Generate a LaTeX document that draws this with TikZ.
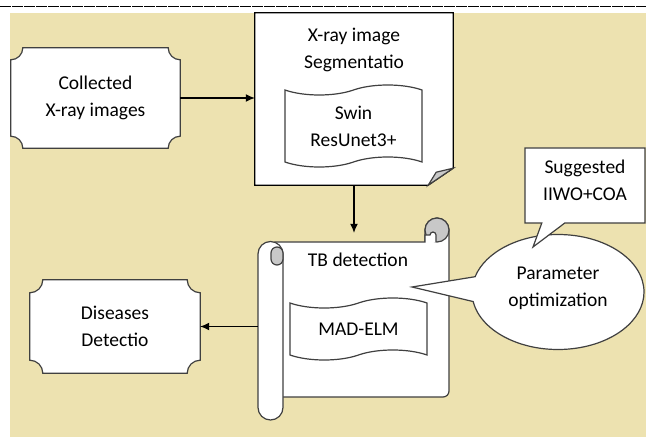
\documentclass[tikz,border=0pt]{standalone}
\usepackage{fontspec}
\setmainfont{Carlito}
\usetikzlibrary{shapes.symbols,shapes.callouts,backgrounds,arrows.meta}
\definecolor{bgbeige}{RGB}{237,226,176}
\definecolor{linegray}{RGB}{64,64,64}
\definecolor{curlgray}{RGB}{200,200,200}
% plaque outline round a named node: #1 node, #2 corner radius
\newcommand\plaquepath[2]{%
  \draw[outline] ([yshift=-#2]#1.north west) arc[start angle=-90,end angle=0,radius=#2]
    -- ([xshift=-#2]#1.north east) arc[start angle=180,end angle=270,radius=#2]
    -- ([yshift=#2]#1.south east) arc[start angle=90,end angle=180,radius=#2]
    -- ([xshift=#2]#1.south west) arc[start angle=0,end angle=90,radius=#2] -- cycle;}

\begin{document}
\begin{tikzpicture}[x=1pt, y=1pt, font=\fontsize{19.5}{27}\selectfont]
  \tikzstyle{plaque} = [align=center, inner sep=0pt]
  \tikzstyle{outline} = [draw=linegray, line width=1.2pt, fill=white]
  \tikzstyle{tapebox} = [tape, outline, tape bend height=10pt, align=center]
  \tikzstyle{callbox} = [outline, align=center]
  \tikzstyle{link} = [-{Latex[length=9pt,width=8pt]}, line width=1.2pt]
\useasboundingbox (0,0) rectangle (646,437);
\node[plaque, minimum width=169pt, minimum height=100pt](coll) at (95.5,339){Collected\\X-ray images};
\node[minimum width=198pt, minimum height=172pt, label={[anchor=north, align=center, yshift=-12pt]north:X-ray image\\Segmentatio}](seg) at (354,338){};
\node[tapebox, minimum width=137pt, minimum height=82pt](swin) at (353.5,311){Swin\\ResUnet3+};
\node[minimum width=190pt, minimum height=178pt, label={[anchor=north, xshift=5pt, yshift=-8pt]north:TB detection}](tb) at (353,106){};
\node[tapebox, minimum width=137pt, minimum height=62pt](mad) at (358.5,108){MAD-ELM};
\node[plaque, minimum width=170pt, minimum height=93pt](dis) at (115,110.5){Diseases\\Detectio};
\coordinate (tbtip) at (412,150);
\coordinate (partip) at (533,190);
\node[callbox, ellipse callout, minimum width=172pt, minimum height=115pt, text depth=10pt, callout absolute pointer={(tbtip)}, callout pointer arc=25](par) at (558,145){Parameter\\optimization};
\node[callbox, rectangle callout, minimum width=120pt, minimum height=75pt, text depth=10pt, callout absolute pointer={(partip)}, callout pointer width=23pt](sug) at (585,251.5){Suggested\\IIWO+COA};
\draw[link] (coll.east) -- (coll.east -| seg.west);
\draw[link, shorten >=9pt] (seg.south) -- (seg.south |- tb.north);
\draw[link] (tb.west |- dis.east) -- (dis.east);
\begin{scope}[on background layer]
  \fill[bgbeige] (10,0) rectangle (646,424);
  \draw[line width=1.3pt, dash pattern=on 11pt off 1pt] (0,430.5) -- (646,430.5);
  \plaquepath{coll}{12pt}
  \plaquepath{dis}{13pt}
  % folded page
  \draw[outline, draw=black] (seg.north west) -- (seg.north east) -- ([yshift=17pt]seg.south east)
    -- ([xshift=-25pt]seg.south east) -- (seg.south west) -- cycle;
  \draw[outline, fill=curlgray] ([xshift=-25pt]seg.south east) -- ([yshift=17pt]seg.south east)
    -- ([xshift=-17pt, yshift=13pt]seg.south east) -- cycle;
  % scroll
  \draw[outline] (275,195) -- (425,195) -- (425,207) arc[start angle=180,end angle=0,radius=12]
    -- (449,46) arc[start angle=0,end angle=-90,radius=6] -- (275,40) -- cycle;
  \draw[outline, fill=curlgray] (437,207) circle (12);
  \draw[outline] (425,195) -- (425,202) -- (430,202) arc[start angle=180,end angle=0,radius=3] -- (436,195);
  \draw[outline] (283,29.5) arc[start angle=0,end angle=-180,radius=12.5] -- (258,183)
    arc[start angle=180,end angle=0,radius=12.5] -- cycle;
  \draw[outline, fill=curlgray] (271,178) -- (271,184) arc[start angle=180,end angle=0,radius=6]
    -- (283,178) arc[start angle=0,end angle=-180,radius=6];
\end{scope}
\end{tikzpicture}
\end{document}
